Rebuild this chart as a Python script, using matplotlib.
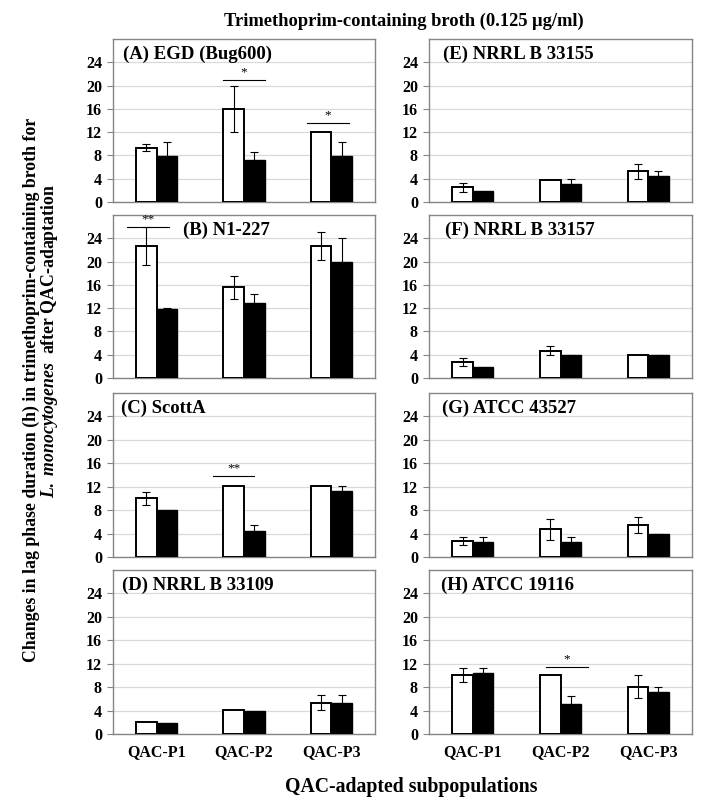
import numpy as np
import matplotlib
matplotlib.use('Agg')
import matplotlib.pyplot as plt

plt.rcParams['font.family'] = ['Liberation Serif', 'DejaVu Serif']
plt.rcParams['font.weight'] = 'bold'
plt.rcParams['mathtext.fontset'] = 'custom'
plt.rcParams['mathtext.it'] = 'Liberation Serif:italic:bold'
plt.rcParams['mathtext.rm'] = 'Liberation Serif:bold'

# data, one row per panel (A..H), columns QAC-P1..P3
groups = ['QAC-P1', 'QAC-P2', 'QAC-P3']
panel_titles = ['(A) EGD (Bug600)', '(B) N1-227', '(C) ScottA', '(D) NRRL B 33109',
                '(E) NRRL B 33155', '(F) NRRL B 33157', '(G) ATCC 43527', '(H) ATCC 19116']

open_mean = [[9.3, 16.0, 12.0],
             [22.7, 15.6, 22.7],
             [10.0, 12.1, 12.1],
             [2.0, 4.1, 5.35],
             [2.5, 3.85, 5.3],
             [2.7, 4.7, 3.9],
             [2.75, 4.7, 5.4],
             [10.0, 10.0, 8.1]]
open_err = [[0.6, 4.0, 0.0],
            [3.3, 2.0, 2.4],
            [1.15, 0.0, 0.0],
            [0.0, 0.0, 1.3],
            [0.75, 0.0, 1.3],
            [0.7, 0.75, 0.0],
            [0.65, 1.85, 1.35],
            [1.2, 0.0, 2.0]]
solid_mean = [[7.9, 7.15, 7.9],
              [11.85, 12.85, 19.9],
              [8.0, 4.5, 11.3],
              [1.95, 4.0, 5.25],
              [1.85, 3.1, 4.5],
              [1.95, 3.9, 3.9],
              [2.55, 2.55, 3.9],
              [10.5, 5.15, 7.25]]
solid_err = [[2.4, 1.4, 2.4],
             [0.15, 1.6, 4.1],
             [0.0, 0.9, 0.75],
             [0.0, 0.0, 1.4],
             [0.0, 0.85, 0.8],
             [0.0, 0.1, 0.1],
             [0.85, 0.85, 0.1],
             [0.75, 1.4, 0.75]]

# significance marks: panel, group, stars, line height, horizontal shift
sig_panel = [0, 0, 1, 2, 7]
sig_group = [1, 2, 0, 1, 1]
sig_text = ['*', '*', '**', '**', '*']
sig_y = [21.0, 13.5, 26.0, 13.8, 11.4]
sig_shift = [0.0, -0.04, -0.1, -0.12, 0.07]

W, H = 714.0, 807.0
fig = plt.figure(figsize=(W / 100, H / 100), dpi=100)

col_px = [(113, 262), (429, 263)]
row_px = [(39, 202), (215, 378), (393, 557), (570, 734)]
title_x = [0.038, 0.267, 0.031, 0.035, 0.053, 0.061, 0.049, 0.046]

frame_c = '#858585'
bw = 0.235
x = np.arange(len(groups))

axes = []
for i in range(8):
    col, row = divmod(i, 4)
    l, w = col_px[col]
    t, b = row_px[row]
    ax = fig.add_axes([l / W, 1 - b / H, w / W, (b - t) / H])
    axes.append(ax)

    ax.bar(x - bw / 2, open_mean[i], bw, color='white', edgecolor='black', linewidth=1.4, zorder=3)
    ax.bar(x + bw / 2, solid_mean[i], bw, color='black', edgecolor='black', linewidth=1.0, zorder=3)
    oe = np.array(open_err[i])
    se = np.array(solid_err[i])
    m = oe > 0
    ax.errorbar((x - bw / 2)[m], np.array(open_mean[i])[m], yerr=oe[m], fmt='none',
                ecolor='black', elinewidth=0.8, capsize=2.7, capthick=0.8, zorder=4)
    m = se > 0
    ax.errorbar((x + bw / 2)[m], np.array(solid_mean[i])[m], yerr=se[m], fmt='none',
                ecolor='black', elinewidth=0.8, capsize=2.7, capthick=0.8, zorder=4)

    ax.set_xlim(-0.5, 2.5)
    ax.set_ylim(0, 28)
    ax.set_yticks(np.arange(0, 25, 4))
    ax.yaxis.grid(True, color='#d9d9d9', linewidth=0.9, zorder=0)
    ax.set_axisbelow(True)
    for s in ax.spines.values():
        s.set_color(frame_c)
        s.set_linewidth(1.0)
    ax.tick_params(axis='y', direction='out', length=4, width=0.8, color=frame_c,
                   labelsize=11.5, pad=4)
    for lab in ax.get_yticklabels():
        lab.set_fontweight('bold')
    ax.set_xticks(x)
    if row == 3:
        ax.set_xticklabels(groups, fontsize=11.5, fontweight='bold')
    else:
        ax.set_xticklabels([])
    ax.tick_params(axis='x', length=0, pad=7)

    ax.text(title_x[i], 0.908, panel_titles[i], transform=ax.transAxes,
            fontsize=13.5, fontweight='bold', va='center', ha='left', zorder=5)

for p, g, txt, yv, sh in zip(sig_panel, sig_group, sig_text, sig_y, sig_shift):
    ax = axes[p]
    ax.plot([g - 0.24 + sh, g + 0.24 + sh], [yv, yv], color='black', linewidth=0.8, zorder=5)
    ax.text(g + sh, yv + 0.3, txt, ha='center', va='bottom', fontsize=9.5,
            fontweight='normal', zorder=5)

fig.text(404 / W, 1 - 21 / H, 'Trimethoprim-containing broth (0.125 \u03bcg/ml)',
         ha='center', va='center', fontsize=13.3, fontweight='bold')
fig.text(411 / W, 1 - 787 / H, 'QAC-adapted subpopulations',
         ha='center', va='center', fontsize=14.2, fontweight='bold')
fig.text(31 / W, 1 - 390 / H,
         'Changes in lag phase duration (h) in trimethoprim-containing broth for',
         rotation=90, ha='center', va='center', fontsize=12.8, fontweight='bold')
fig.text(50 / W, 1 - 341 / H, r'$\mathit{L.\ monocytogenes}$' + '  after QAC-adaptation',
         rotation=90, ha='center', va='center', fontsize=12.8, fontweight='bold')

fig.savefig('out.png', dpi=100)
